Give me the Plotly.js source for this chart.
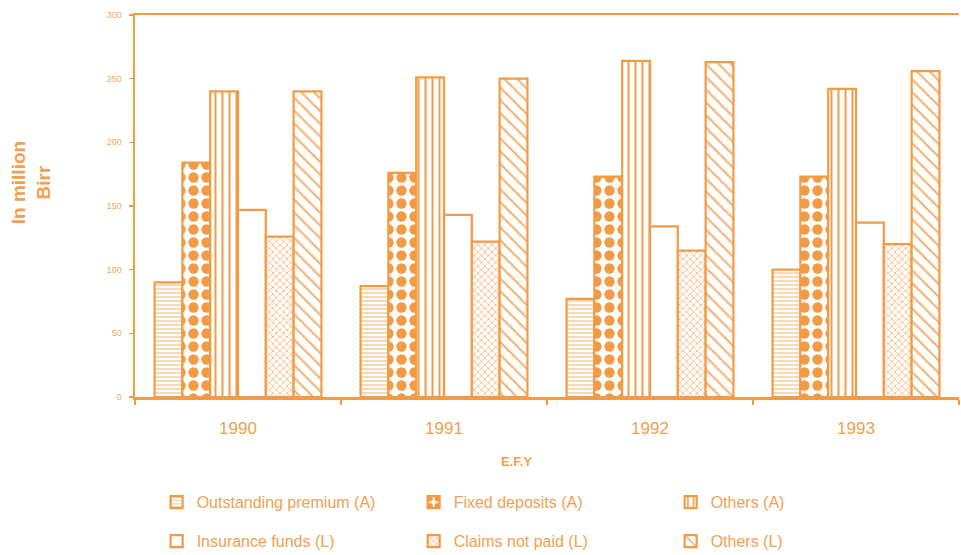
<!DOCTYPE html>
<html>
<head>
<meta charset="utf-8">
<script src="https://cdn.plot.ly/plotly-3.0.1.min.js"></script>
<style>html,body{margin:0;padding:0;background:#fff;}#chart{width:961px;height:555px;}</style>
</head>
<body>
<div id="chart"></div>
<script>
const years = ["1990", "1991", "1992", "1993"];
const outstandingPremium = [90, 87, 77, 100];
const fixedDeposits = [184, 176, 173, 173];
const othersA = [240, 251, 264, 242];
const insuranceFunds = [147, 143, 134, 137];
const claimsNotPaid = [126, 122, 115, 120];
const othersL = [240, 250, 263, 256];
const seriesNames = ["Outstanding premium (A)", "Fixed deposits (A)", "Others (A)",
                     "Insurance funds (L)", "Claims not paid (L)", "Others (L)"];
const yTicks = [0, 50, 100, 150, 200, 250, 300];

const ORANGE = "#F39A44";
const TEXT = "#F2A050";
const font = "Liberation Sans, Arial, sans-serif";

const values = [outstandingPremium, fixedDeposits, othersA, insuranceFunds, claimsNotPaid, othersL];
const patterns = [
  {shape: "-", size: 4, solidity: 0.3, fgcolor: "#F6BE84", bgcolor: "#fff", fillmode: "replace"},
  {shape: ".", size: 13, solidity: 0.5, fgcolor: ORANGE, bgcolor: "#fff", fillmode: "replace"},
  {shape: "|", size: 7, solidity: 0.28, fgcolor: ORANGE, bgcolor: "#fff", fillmode: "replace"},
  {shape: "", fgcolor: ORANGE, bgcolor: "#fff"},
  {shape: "x", size: 5, solidity: 0.22, fgcolor: ORANGE, bgcolor: "#fff", fillmode: "replace"},
  {shape: "\\", size: 9, solidity: 0.22, fgcolor: "#F5B070", bgcolor: "#fff", fillmode: "replace"}
];

const traces = values.map((v, i) => ({
  type: "bar",
  name: seriesNames[i],
  x: years,
  y: v,
  legend: i < 3 ? "legend" : "legend2",
  marker: {color: "#fff", line: {color: ORANGE, width: 2.2}, pattern: patterns[i]},
  hoverinfo: "x+y+name"
}));

const legendCommon = {
  orientation: "h", xanchor: "left", yanchor: "middle",
  xref: "container", yref: "container",
  font: {family: font, size: 16, color: TEXT},
  entrywidthmode: "pixels", entrywidth: 212,
  itemwidth: 30, bgcolor: "rgba(0,0,0,0)", borderwidth: 0,
  traceorder: "normal", itemclick: false
};

const layout = {
  width: 961, height: 555,
  margin: {l: 135, r: 2, t: 15, b: 158, autoexpand: false},
  paper_bgcolor: "#fff", plot_bgcolor: "#fff",
  barmode: "group", bargap: 0.19, bargroupgap: 0,
  font: {family: font, color: TEXT},
  xaxis: {
    type: "category", range: [-0.5, 3.5],
    tickson: "boundaries", ticks: "outside", ticklen: 5, tickwidth: 2, tickcolor: ORANGE,
    ticklabelstandoff: 14,
    tickfont: {family: font, size: 17, color: TEXT},
    showline: true, linecolor: ORANGE, linewidth: 2.5, mirror: true,
    showgrid: false, zeroline: false
  },
  yaxis: {
    range: [0, 300], tickvals: yTicks, ticktext: yTicks.map(String),
    ticks: "outside", ticklen: 4, tickwidth: 1.5, tickcolor: ORANGE,
    ticklabelstandoff: 5,
    tickfont: {family: font, size: 9, color: "#F2A860"},
    showline: true, linecolor: ORANGE, linewidth: 2.5,
    showgrid: false, zeroline: false
  },
  legend: Object.assign({}, legendCommon, {x: 0.163, y: 0.095}),
  legend2: Object.assign({}, legendCommon, {x: 0.163, y: 0.025}),
  annotations: [
    {text: "<b>In million<br>Birr</b>", xref: "paper", yref: "paper", x: -0.126, y: 0.56,
     xanchor: "center", yanchor: "middle",
     textangle: -90, showarrow: false, font: {family: font, size: 19, color: TEXT}, align: "center"},
    {text: "<b>E.F.Y</b>", xref: "paper", yref: "paper", x: 0.463, y: -0.168,
     xanchor: "center", yanchor: "middle",
     showarrow: false, font: {family: font, size: 13, color: TEXT}}
  ],
  showlegend: true
};

Plotly.newPlot("chart", traces, layout, {displayModeBar: false, staticPlot: true});
</script>
</body>
</html>
